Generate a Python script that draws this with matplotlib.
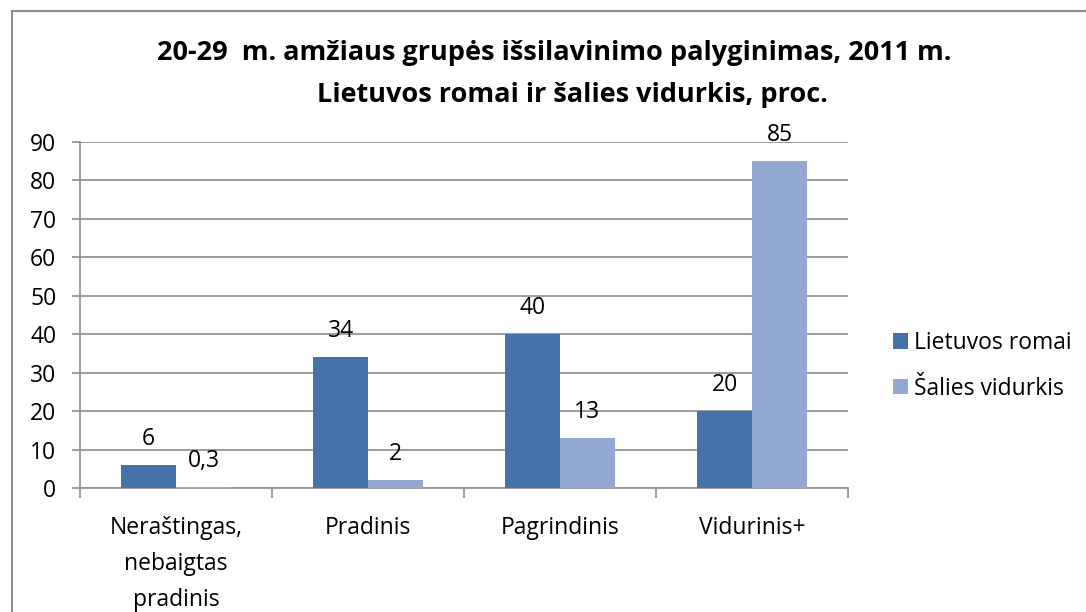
import matplotlib
matplotlib.use("Agg")
import matplotlib.pyplot as plt
import numpy as np
from matplotlib.patches import Rectangle

plt.rcParams['font.family'] = ['Open Sans', 'DejaVu Sans']

# duomenys
kategorijos = ['Neraštingas,\nnebaigtas\npradinis', 'Pradinis', 'Pagrindinis', 'Vidurinis+']
romai = [6, 34, 40, 20]
vidurkis = [0.3, 2, 13, 85]
romai_zymos = ['6', '34', '40', '20']
vidurkis_zymos = ['0,3', '2', '13', '85']
y_ticks = [0, 10, 20, 30, 40, 50, 60, 70, 80, 90]

spalva1 = '#4472a8'
spalva2 = '#94a9d1'
pilka = '#8c8c8c'
fs = 16.5

fig = plt.figure(figsize=(10.86, 6.12), dpi=100)
ax = fig.add_axes([80 / 1086, 124 / 612, 768 / 1086, 346 / 612])

x = np.arange(len(kategorijos))
w = 0.286
ax.bar(x - w / 2, romai, w, color=spalva1, label='Lietuvos romai', zorder=3)
ax.bar(x + w / 2, vidurkis, w, color=spalva2, label='Šalies vidurkis', zorder=3)

# reikšmių etiketės
for i in range(len(x)):
    ax.annotate(romai_zymos[i], (x[i] - w / 2, romai[i]), xytext=(0, 14.4),
                textcoords='offset points', ha='center', va='baseline', fontsize=fs)
    ax.annotate(vidurkis_zymos[i], (x[i] + w / 2, vidurkis[i]), xytext=(0, 14.4),
                textcoords='offset points', ha='center', va='baseline', fontsize=fs)

ax.set_xlim(-0.5, 3.5)
ax.set_ylim(0, 90)
ax.set_yticks(y_ticks)
ax.tick_params(axis='y', labelsize=fs, length=6, color=pilka, width=1.2, pad=11)
ax.yaxis.grid(True, color=pilka, linewidth=1.2, zorder=0)
ax.set_xticks(x)
ax.set_xticklabels(kategorijos, fontsize=fs, linespacing=1.68)
ax.tick_params(axis='x', length=0, pad=20)
ax.set_xticks([-0.5, 0.5, 1.5, 2.5, 3.5], minor=True)
ax.tick_params(axis='x', which='minor', length=7, color=pilka, width=1.2)
for s in ['top', 'right']:
    ax.spines[s].set_visible(False)
for s in ['left', 'bottom']:
    ax.spines[s].set_color(pilka)
    ax.spines[s].set_linewidth(1.2)

fig.text(554 / 1086, 1 - 53 / 612, '20-29  m. amžiaus grupės išsilavinimo palyginimas, 2011 m.',
         ha='center', va='center', fontsize=19.5, fontweight='bold')
fig.text(572 / 1086, 1 - 95 / 612, 'Lietuvos romai ir šalies vidurkis, proc.',
         ha='center', va='center', fontsize=19.5, fontweight='bold')

ax.legend(loc='center left', bbox_to_anchor=(872 / 1086, 1 - 366 / 612),
          bbox_transform=fig.transFigure, frameon=False, fontsize=fs,
          handlelength=0.65, handleheight=0.65, handletextpad=0.3, labelspacing=0.95)

# rėmelis aplink diagramą
fig.patches.append(Rectangle((12 / 1086, -0.1), 1.2, 1 - 11 / 612 + 0.1,
                             transform=fig.transFigure, fill=False,
                             edgecolor=pilka, linewidth=1.5))

plt.savefig('out.png', dpi=100)
